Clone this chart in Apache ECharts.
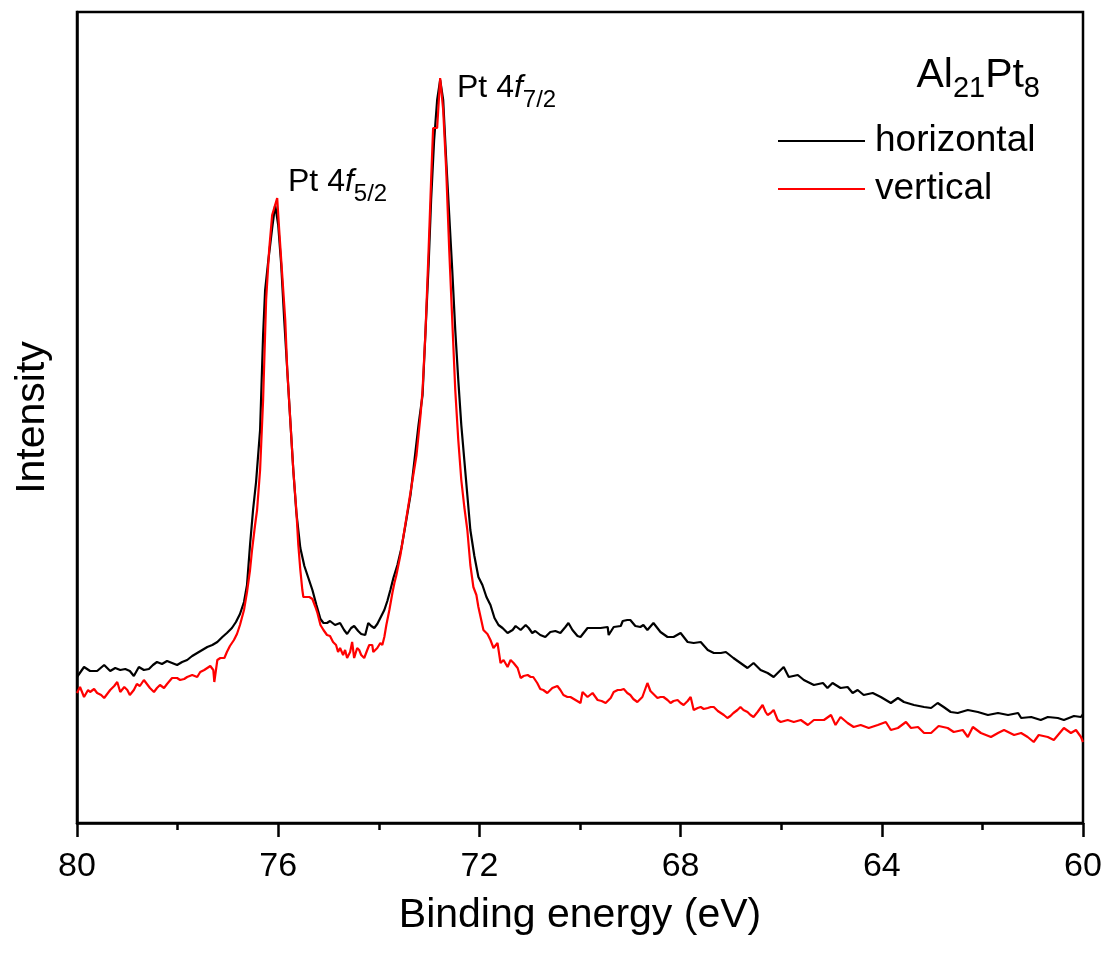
<!DOCTYPE html>
<html>
<head>
<meta charset="utf-8">
<script src="https://cdn.jsdelivr.net/npm/echarts@6/dist/echarts.min.js"></script>
<style>
  html, body { margin: 0; padding: 0; background: #fff; }
  #chart { width: 1107px; height: 954px; }
</style>
</head>
<body>
<div id="chart"></div>
<script>
// Pt 4f XPS spectra of Al21Pt8, two sample orientations (intensity in arbitrary units)
const energyHorizontal = [
  80.00,79.86,79.74,79.60,79.46,79.34,79.24,79.14,79.04,78.95,78.87,78.77,78.67,78.57,78.49,78.41,78.31,78.21,78.11,78.01,
  77.91,77.81,77.71,77.61,77.51,77.41,77.31,77.21,77.11,77.02,76.92,76.84,76.76,76.68,76.62,76.56,76.50,76.44,76.36,76.30,
  76.26,76.20,76.12,76.06,76.00,75.94,75.88,75.82,75.76,75.70,75.64,75.56,75.48,75.40,75.32,75.24,75.16,75.10,75.03,74.97,
  74.87,74.77,74.69,74.63,74.55,74.49,74.41,74.35,74.27,74.21,74.15,74.09,74.03,73.97,73.89,73.83,73.77,73.71,73.63,73.55,
  73.47,73.37,73.29,73.21,73.13,73.07,73.01,72.96,72.90,72.84,72.78,72.72,72.66,72.60,72.54,72.48,72.42,72.36,72.30,72.24,
  72.18,72.10,72.02,71.94,71.86,71.78,71.70,71.62,71.54,71.44,71.34,71.28,71.18,71.08,71.02,70.95,70.89,70.79,70.69,70.59,
  70.49,70.39,70.29,70.23,70.15,70.05,69.99,69.85,69.73,69.59,69.45,69.43,69.33,69.19,69.15,69.06,69.00,68.90,68.80,68.74,
  68.66,68.54,68.40,68.26,68.14,68.00,67.86,67.74,67.60,67.46,67.34,67.20,67.10,66.95,66.81,66.67,66.55,66.41,66.27,66.15,
  66.05,65.95,65.85,65.67,65.55,65.35,65.17,65.08,64.98,64.82,64.68,64.58,64.48,64.36,64.18,64.02,63.82,63.68,63.56,63.36,
  63.16,63.02,62.89,62.77,62.63,62.49,62.29,62.09,61.89,61.69,61.49,61.29,61.23,61.03,60.84,60.70,60.50,60.38,60.18,60.04,
  60.00
];
const intensityHorizontal = [
  1460,1560,1520,1520,1580,1520,1550,1530,1540,1520,1470,1560,1530,1540,1580,1610,1590,1620,1600,1580,
  1610,1630,1670,1700,1730,1760,1780,1810,1860,1900,1950,2010,2090,2210,2380,2780,3130,3410,3930,4880,
  5330,5610,5950,6180,5980,5580,5030,4530,4030,3530,3110,2750,2570,2450,2330,2180,2040,2000,2000,2020,
  1980,2000,1930,1890,1950,1970,1920,1890,1880,2000,1970,1950,1990,2050,2130,2220,2330,2450,2580,2750,
  2980,3280,3630,3980,4280,4930,5580,6230,6830,7230,7430,7230,6630,6080,5530,4930,4430,3980,3630,3280,
  2930,2670,2460,2380,2260,2180,2050,1980,1950,1900,1930,1970,1930,1980,1950,1900,1920,1880,1860,1910,
  1920,1900,1960,2000,1930,1870,1860,1950,1950,1950,1960,1880,1960,1970,2020,2030,2030,1970,1960,1980,
  1930,2000,1910,1860,1860,1900,1810,1800,1810,1730,1700,1700,1710,1650,1600,1550,1600,1530,1500,1460,
  1510,1560,1460,1480,1430,1380,1400,1350,1400,1350,1360,1300,1330,1280,1300,1260,1200,1250,1210,1180,
  1160,1150,1200,1160,1110,1100,1130,1110,1080,1100,1080,1100,1050,1060,1030,1060,1050,1030,1070,1060,
  1090
];
const energyVertical = [
  80.00,79.94,79.86,79.78,79.74,79.66,79.60,79.52,79.46,79.40,79.34,79.26,79.20,79.14,79.06,79.00,78.95,78.87,78.81,78.75,
  78.67,78.61,78.55,78.47,78.41,78.35,78.27,78.21,78.11,78.01,77.95,77.87,77.81,77.71,77.61,77.55,77.47,77.41,77.35,77.29,
  77.27,77.21,77.15,77.07,77.02,76.96,76.88,76.82,76.76,76.68,76.62,76.56,76.52,76.46,76.42,76.36,76.30,76.24,76.18,76.12,
  76.02,75.98,75.92,75.86,75.82,75.76,75.70,75.64,75.60,75.56,75.52,75.50,75.38,75.32,75.26,75.22,75.16,75.10,75.03,74.97,
  74.91,74.85,74.81,74.77,74.71,74.67,74.63,74.57,74.53,74.49,74.43,74.39,74.35,74.29,74.23,74.19,74.13,74.11,74.03,73.97,
  73.93,73.89,73.85,73.79,73.73,73.69,73.65,73.57,73.49,73.41,73.33,73.25,73.17,73.13,73.07,73.01,72.96,72.92,72.84,72.78,
  72.72,72.66,72.60,72.54,72.48,72.42,72.36,72.30,72.24,72.18,72.12,72.06,72.02,71.92,71.84,71.78,71.72,71.64,71.58,71.52,
  71.44,71.38,71.32,71.24,71.18,71.12,71.04,70.98,70.93,70.85,70.79,70.73,70.65,70.59,70.55,70.45,70.39,70.33,70.25,70.19,
  70.09,69.99,69.95,69.85,69.75,69.65,69.57,69.49,69.39,69.33,69.25,69.19,69.13,69.06,69.00,68.94,68.86,68.76,68.66,68.60,
  68.54,68.46,68.40,68.34,68.26,68.20,68.14,68.06,68.00,67.94,67.86,67.80,67.74,67.66,67.60,67.54,67.46,67.40,67.34,67.26,
  67.20,67.14,67.07,67.01,66.95,66.87,66.81,66.75,66.67,66.61,66.55,66.47,66.37,66.31,66.27,66.21,66.15,66.07,66.01,65.87,
  65.75,65.61,65.47,65.35,65.15,65.01,64.92,64.82,64.68,64.56,64.42,64.26,64.08,63.92,63.82,63.68,63.52,63.42,63.28,63.16,
  63.02,62.87,62.69,62.57,62.39,62.29,62.19,62.03,61.83,61.69,61.57,61.37,61.23,61.10,60.98,60.88,60.70,60.58,60.38,60.24,
  60.14,60.04,60.00
];
const intensityVertical = [
  1300,1360,1260,1330,1310,1340,1300,1280,1250,1290,1330,1370,1410,1310,1360,1330,1280,1330,1390,1370,
  1430,1390,1350,1310,1350,1380,1350,1390,1450,1450,1430,1440,1460,1480,1460,1510,1530,1550,1570,1530,
  1410,1630,1650,1650,1710,1770,1830,1890,1980,2130,2310,2530,2730,2980,3130,3530,4230,5230,5730,6080,
  6250,5930,5480,5030,4530,4030,3530,3130,2780,2530,2330,2260,2260,2240,2160,2100,1980,1930,1880,1870,
  1810,1780,1710,1750,1680,1730,1650,1710,1810,1650,1750,1730,1680,1650,1730,1780,1780,1710,1750,1800,
  1780,1860,1980,2130,2300,2400,2480,2680,2930,3180,3430,3680,4080,4330,4930,5730,6430,6950,6950,7450,
  7130,6530,5730,5030,4330,3830,3430,3160,2930,2580,2360,2280,2160,1930,1890,1830,1750,1800,1600,1630,
  1560,1630,1600,1550,1450,1470,1480,1460,1460,1400,1340,1330,1300,1330,1350,1370,1330,1280,1260,1260,
  1230,1200,1310,1260,1300,1230,1220,1200,1250,1310,1330,1330,1340,1300,1280,1240,1210,1260,1400,1320,
  1290,1250,1260,1260,1230,1200,1220,1230,1200,1180,1220,1260,1130,1150,1160,1140,1150,1160,1160,1120,
  1100,1080,1050,1070,1100,1130,1160,1130,1110,1080,1060,1110,1180,1110,1080,1100,1130,1030,1010,1030,
  1010,1030,980,1030,1030,1080,980,1060,1000,960,980,950,980,1010,930,950,1010,950,960,900,
  900,970,950,910,930,860,960,900,860,900,930,880,900,860,810,880,860,830,950,900,
  930,860,810
];
const xTickValues = [80, 76, 72, 68, 64, 60];

const zip = (xs, ys) => xs.map((x, i) => [x, ys[i]]);
const FONT = '"Liberation Sans", Arial, Helvetica, sans-serif';

const chart = echarts.init(document.getElementById('chart'), null, { renderer: 'canvas' });

const subRich = (main, sub, pad) => ({
  n: { fontSize: main, fontFamily: FONT, lineHeight: main, verticalAlign: 'top', fill: '#000' },
  i: { fontSize: main, fontFamily: FONT, fontStyle: 'italic', lineHeight: main, verticalAlign: 'top', fill: '#000' },
  s: { fontSize: sub, fontFamily: FONT, lineHeight: sub, padding: [pad, 0, 0, 0], verticalAlign: 'top', fill: '#000' }
});

chart.setOption({
  backgroundColor: '#ffffff',
  animation: false,
  textStyle: { fontFamily: FONT, color: '#000' },
  grid: {
    left: 77, right: 24, top: 12, bottom: 131,
    show: true, borderColor: '#000', borderWidth: 2.5, backgroundColor: 'transparent'
  },
  xAxis: {
    type: 'value',
    inverse: true,
    min: 60, max: 80, interval: 4,
    name: 'Binding energy (eV)',
    nameLocation: 'middle',
    nameGap: 72,
    nameTextStyle: { fontSize: 41, fontFamily: FONT, color: '#000' },
    axisLine: { show: true, onZero: false, lineStyle: { color: '#000', width: 2.5 } },
    axisTick: { show: true, inside: false, length: 14, lineStyle: { color: '#000', width: 2.5 } },
    minorTick: { show: true, splitNumber: 2, length: 7, lineStyle: { color: '#000', width: 2.5 } },
    axisLabel: {
      fontSize: 34, fontFamily: FONT, color: '#000', margin: 27,
      formatter: v => (xTickValues.includes(v) ? String(v) : '')
    },
    splitLine: { show: false },
    minorSplitLine: { show: false }
  },
  yAxis: {
    type: 'value',
    min: 0, max: 8110,
    name: 'Intensity',
    nameLocation: 'middle',
    nameGap: 24,
    nameTextStyle: { fontSize: 41, fontFamily: FONT, color: '#000' },
    axisLine: { show: true, lineStyle: { color: '#000', width: 2.5 } },
    axisTick: { show: false },
    axisLabel: { show: false },
    splitLine: { show: false }
  },
  legend: {
    orient: 'vertical',
    left: 778, top: 121,
    padding: 0,
    itemWidth: 87, itemHeight: 2, itemGap: 8,
    textStyle: { fontSize: 37, fontFamily: FONT, color: '#000', lineHeight: 40, padding: [0, 0, 0, 5] },
    data: [
      { name: 'horizontal', icon: 'rect' },
      { name: 'vertical', icon: 'rect' }
    ]
  },
  series: [
    {
      name: 'horizontal', type: 'line', symbol: 'none', smooth: false,
      lineStyle: { color: '#000000', width: 2.2 }, itemStyle: { color: '#000000' },
      data: zip(energyHorizontal, intensityHorizontal), z: 2
    },
    {
      name: 'vertical', type: 'line', symbol: 'none', smooth: false,
      lineStyle: { color: '#ff0000', width: 2.2 }, itemStyle: { color: '#ff0000' },
      data: zip(energyVertical, intensityVertical), z: 3
    }
  ],
  graphic: [
    {
      type: 'text', right: 67, top: 55,
      style: {
        text: '{n|Al}{s|21}{n|Pt}{s|8}',
        fill: '#000',
        rich: subRich(41, 29, 19)
      }
    },
    {
      type: 'text', left: 288, top: 166,
      style: {
        text: '{n|Pt 4}{i|f}{s|5/2}',
        fill: '#000',
        rich: subRich(32, 24, 16)
      }
    },
    {
      type: 'text', left: 457, top: 72,
      style: {
        text: '{n|Pt 4}{i|f}{s|7/2}',
        fill: '#000',
        rich: subRich(32, 24, 16)
      }
    }
  ]
});
</script>
</body>
</html>
